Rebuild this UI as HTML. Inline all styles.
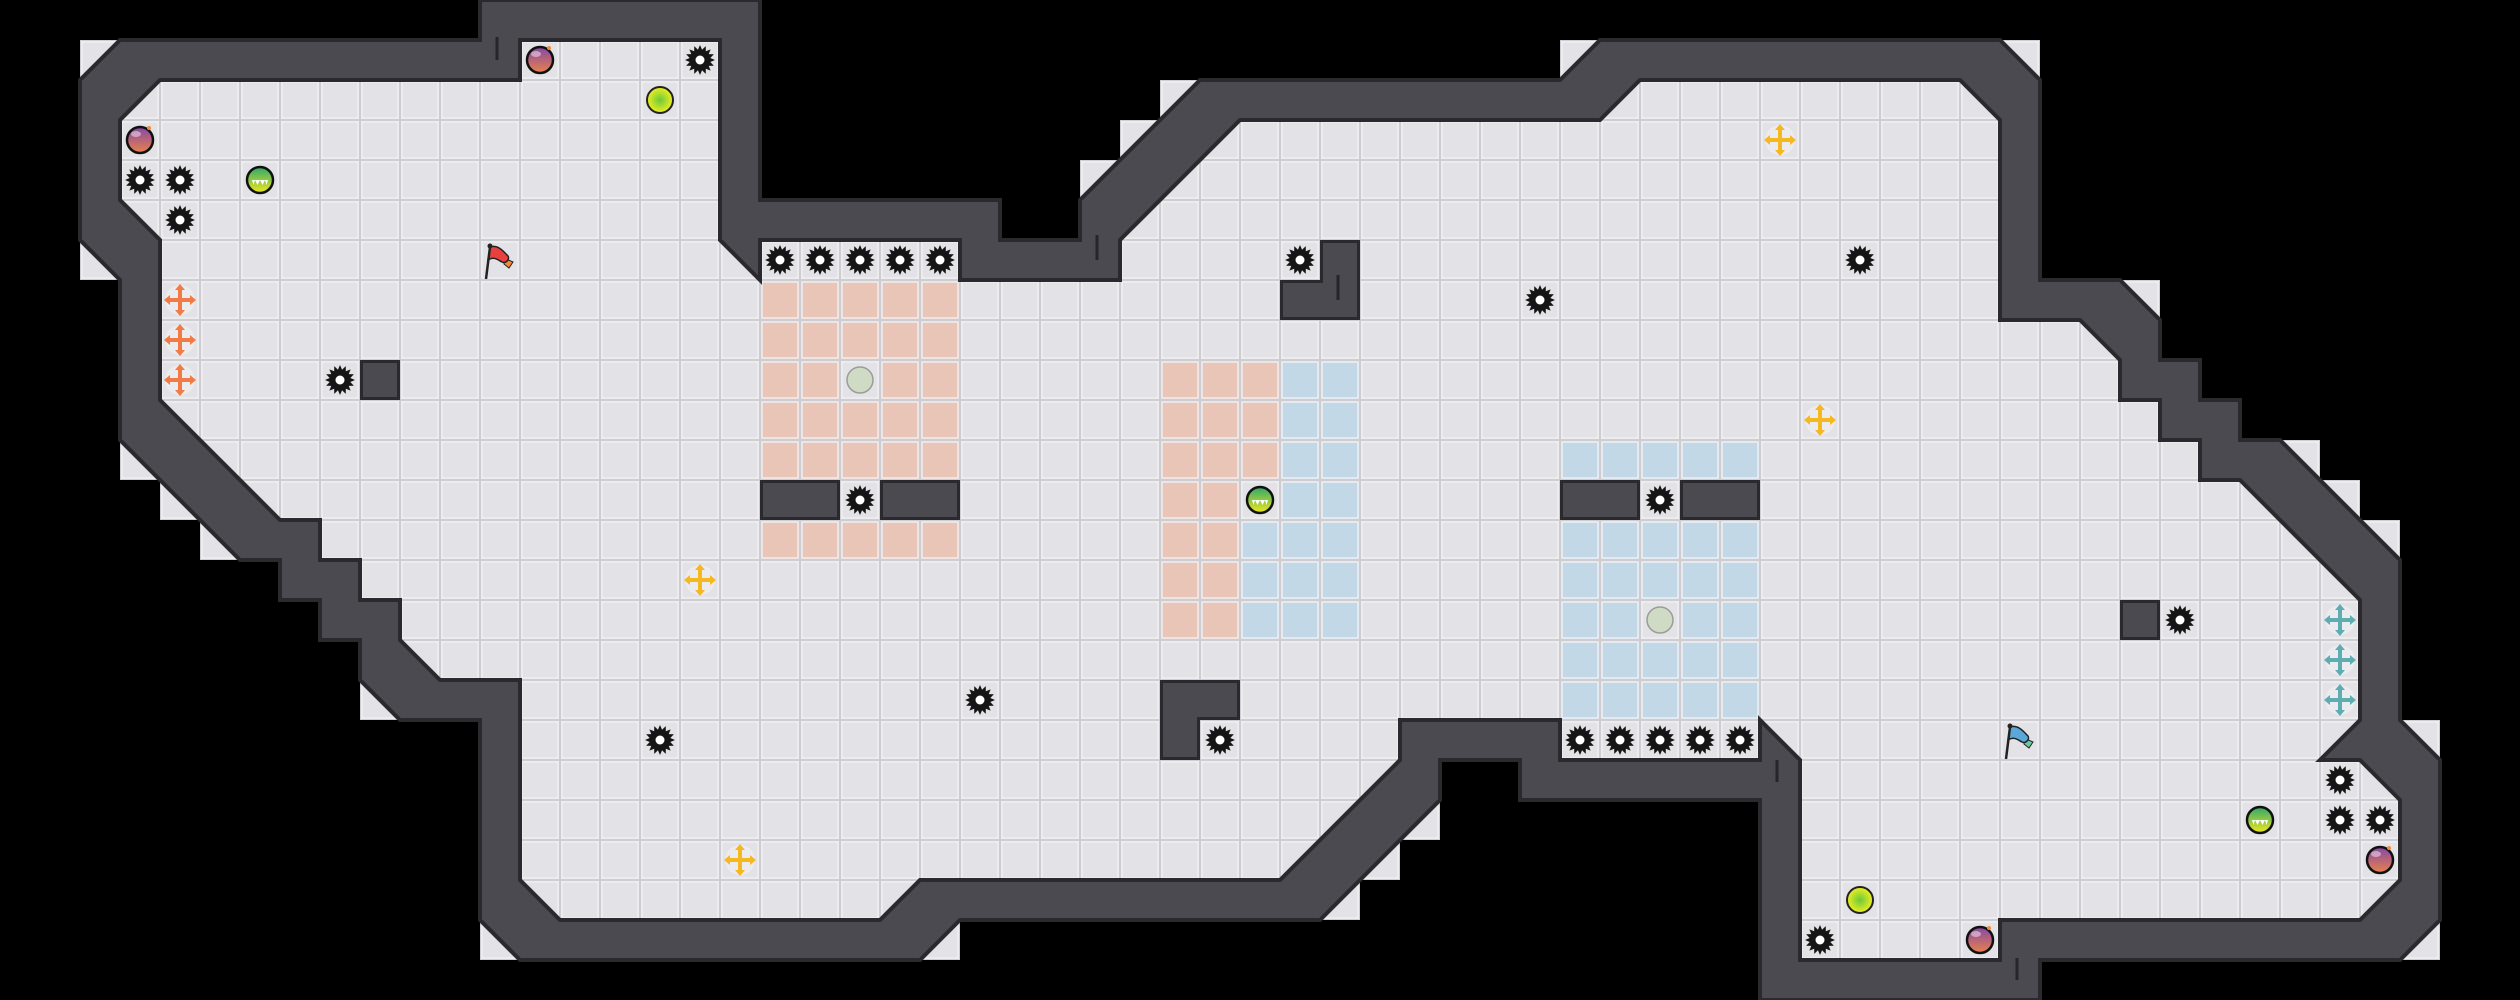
<!DOCTYPE html>
<html><head><meta charset="utf-8"><style>html,body{margin:0;padding:0;background:#000;}svg{display:block}</style></head>
<body>
<svg id="s" xmlns="http://www.w3.org/2000/svg" width="2520" height="1000" viewBox="0 0 2520 1000">
<defs>
<pattern id="grid" x="0" y="0" width="40" height="40" patternUnits="userSpaceOnUse">
<rect x="0" y="0" width="40" height="40" fill="none" stroke="#cdcdd2" stroke-width="2"/>
<rect x="2" y="2" width="36" height="36" fill="none" stroke="#efeff2" stroke-width="1.5"/>
</pattern>
<linearGradient id="gBomb" x1="0" y1="0" x2="0" y2="1"><stop offset="0" stop-color="#8748a6"/><stop offset="1" stop-color="#e8824a"/></linearGradient>
<radialGradient id="gYel"><stop offset="0" stop-color="#6cc83a"/><stop offset="1" stop-color="#eef020"/></radialGradient>
<linearGradient id="gGrn" x1="0" y1="0" x2="0" y2="1"><stop offset="0" stop-color="#2fa86a"/><stop offset="1" stop-color="#f0e81c"/></linearGradient>
</defs>
<g id="floor"></g>
<g id="zones"></g>
<g id="walls"></g>
<g id="items"></g>
</svg>
<script>
const S='http://www.w3.org/2000/svg';
function el(t,a,p){const e=document.createElementNS(S,t);for(const k in a)e.setAttribute(k,a[k]);(p||document.getElementById('s')).appendChild(e);return e;}
const outer=[[120,40],[480,40],[480,0],[760,0],[760,200],[1000,200],[1000,240],[1080,240],[1080,200],[1200,80],[1560,80],[1600,40],[2000,40],[2040,80],[2040,280],[2120,280],[2160,320],[2160,360],[2200,360],[2200,400],[2240,400],[2240,440],[2280,440],[2400,560],[2400,720],[2440,760],[2440,920],[2400,960],[2040,960],[2040,1000],[1760,1000],[1760,800],[1520,800],[1520,760],[1440,760],[1440,800],[1320,920],[960,920],[920,960],[520,960],[480,920],[480,720],[400,720],[360,680],[360,640],[320,640],[320,600],[280,600],[280,560],[240,560],[120,440],[120,280],[80,240],[80,80]];
const inner=[[160,80],[520,80],[520,40],[720,40],[720,240],[760,280],[760,240],[960,240],[960,280],[1120,280],[1120,240],[1240,120],[1600,120],[1640,80],[1960,80],[2000,120],[2000,320],[2080,320],[2120,360],[2120,400],[2160,400],[2160,440],[2200,440],[2200,480],[2240,480],[2360,600],[2360,720],[2320,760],[2360,760],[2400,800],[2400,880],[2360,920],[2000,920],[2000,960],[1800,960],[1800,760],[1760,720],[1760,760],[1560,760],[1560,720],[1400,720],[1400,760],[1280,880],[920,880],[880,920],[560,920],[520,880],[520,680],[440,680],[400,640],[400,600],[360,600],[360,560],[320,560],[320,520],[280,520],[160,400],[160,240],[120,200],[120,120]];
const corner=[[80,40],[80,240],[120,440],[160,480],[200,520],[360,680],[480,920],[920,920],[1320,880],[1360,840],[1400,800],[1080,160],[1120,120],[1160,80],[1560,40],[2000,40],[2120,280],[2280,440],[2320,480],[2360,520],[2400,720],[2400,920]];
const pd=a=>'M'+a.map(p=>p.join(',')).join('L')+'Z';
const F=document.getElementById('floor'),Z=document.getElementById('zones'),W=document.getElementById('walls'),I=document.getElementById('items');
let fd=pd(outer);corner.forEach(c=>{fd+=`M${c[0]},${c[1]}h40v40h-40Z`;});
el('path',{d:fd,fill:'#e3e3e7'},F);
// zones
const PK='#e8c5b6',BL='#c3d8e6';
function R(x,y,w,h,f){el('rect',{x,y,width:w,height:h,fill:f},Z);}
R(760,280,200,280,PK);R(840,360,40,40,'#e3e3e7');R(840,480,40,40,'#e3e3e7');
R(1160,360,120,280,PK);R(1280,360,80,280,BL);R(1240,520,40,120,BL);R(1240,480,40,40,'#e3e3e7');
R(1560,440,200,280,BL);R(1640,600,40,40,'#e3e3e7');R(1640,480,40,40,'#e3e3e7');
el('path',{d:fd,fill:'url(#grid)'},Z);
// walls
el('path',{d:pd(outer)+pd(inner),fill:'#4b4a50','fill-rule':'evenodd',stroke:'#2a292e','stroke-width':4,'stroke-linejoin':'miter'},W);
const blocks=[[360,360,40,40],[760,480,80,40],[880,480,80,40],[1560,480,80,40],[1680,480,80,40],[2120,600,40,40]];
blocks.forEach(b=>el('rect',{x:b[0]+1.5,y:b[1]+1.5,width:b[2]-3,height:b[3]-3,fill:'#4b4a50',stroke:'#2a292e','stroke-width':3},W));
el('path',{d:'M1321.5,241.5H1358.5V318.5H1281.5V281.5H1321.5Z',fill:'#4b4a50',stroke:'#2a292e','stroke-width':3},W);
el('path',{d:'M1161.5,681.5H1238.5V718.5H1198.5V758.5H1161.5Z',fill:'#4b4a50',stroke:'#2a292e','stroke-width':3},W);
[[497,37,497,60],[1097,235,1097,260],[1338,275,1338,300],[1777,760,1777,782],[2017,958,2017,980]].forEach(l=>el('line',{x1:l[0],y1:l[1],x2:l[2],y2:l[3],stroke:'#262529','stroke-width':3},W));
// items
function C(c,r){return [c*40+20,r*40+20];}
let gp=[];for(let i=0;i<32;i++){const r=i%2?10.5:15,a=i*Math.PI/16;gp.push((r*Math.cos(a)).toFixed(2)+','+(r*Math.sin(a)).toFixed(2));}
function gear(c,r){const [x,y]=C(c,r);const g=el('g',{transform:`translate(${x},${y})`},I);el('polygon',{points:gp.join(' '),fill:'#151515'},g);el('circle',{r:4.5,fill:'#fff'},g);}
[[17,1],[3,4],[4,4],[4,5],[8,9],[19,6],[20,6],[21,6],[22,6],[23,6],[21,12],[32,6],[38,7],[46,6],[41,12],[54,15],[24,17],[16,18],[30,18],[39,18],[40,18],[41,18],[42,18],[43,18],[58,19],[58,20],[59,20],[45,23]].forEach(p=>gear(p[0],p[1]));
function bomb(c,r){const [x,y]=C(c,r);const g=el('g',{transform:`translate(${x},${y})`},I);el('circle',{r:13,fill:'url(#gBomb)',stroke:'#111','stroke-width':2.5},g);el('ellipse',{cx:-4,cy:-6,rx:5,ry:3,fill:'#fff',opacity:.45},g);el('circle',{cx:9,cy:-12,r:2,fill:'#f08a30'},g);}
[[13,1],[3,3],[59,21],[49,23]].forEach(p=>bomb(p[0],p[1]));
function yel(c,r){const [x,y]=C(c,r);el('circle',{cx:x,cy:y,r:13,fill:'url(#gYel)',stroke:'#222','stroke-width':2},I);}
[[16,2],[46,22]].forEach(p=>yel(p[0],p[1]));
function grn(c,r){const [x,y]=C(c,r);const g=el('g',{transform:`translate(${x},${y})`},I);el('circle',{r:13,fill:'url(#gGrn)',stroke:'#111','stroke-width':2.5},g);el('path',{d:'M-8,0L8,0L6.5,5L5,0L2.5,5L0,0L-2.5,5L-5,0L-6.5,5Z',fill:'#fff'},g);}
[[6,4],[31,12],[56,20]].forEach(p=>grn(p[0],p[1]));
function gry(c,r){const [x,y]=C(c,r);el('circle',{cx:x,cy:y,r:13,fill:'#cfdbc5',stroke:'#9a9e98','stroke-width':1.5},I);}
[[21,9],[41,15]].forEach(p=>gry(p[0],p[1]));
function cross(c,r,col){const [x,y]=C(c,r);const g=el('g',{transform:`translate(${x},${y})`},I);el('circle',{r:15,fill:'#ececef'},g);
el('path',{d:'M-2,-11H2V-2H11V2H2V11H-2V2H-11V-2H-2Z',fill:col},g);
el('path',{d:'M0,-16L5,-10H-5ZM0,16L5,10H-5ZM-16,0L-10,5V-5ZM16,0L10,5V-5Z',fill:col},g);}
[[4,7],[4,8],[4,9]].forEach(p=>cross(p[0],p[1],'#f27a45'));
[[17,14],[18,21],[44,3],[45,10]].forEach(p=>cross(p[0],p[1],'#f6b820'));
[[58,15],[58,16],[58,17]].forEach(p=>cross(p[0],p[1],'#5fadb2'));
function flag(c,r,col,col2){const [x,y]=C(c,r);const g=el('g',{transform:`translate(${x},${y})`},I);
el('path',{d:'M4,-2L13,2L9,8L4,4Z',fill:col2,stroke:'#222','stroke-width':1},g);
el('path',{d:'M-10,-13C-2,-16 4,-8 8,-4C10,-1 6,4 2,2C-2,0 -6,-4 -12,0Z',fill:col,stroke:'#222','stroke-width':1.5},g);
el('line',{x1:-10,y1:-13,x2:-14,y2:19,stroke:'#222','stroke-width':2.5},g);el('circle',{cx:-10,cy:-14,r:2.5,fill:'#222'},g);}
flag(12,6,'#e8403f','#f08a3a');flag(50,18,'#5aa8d8','#6cc8a0');
</script>
</body></html>
